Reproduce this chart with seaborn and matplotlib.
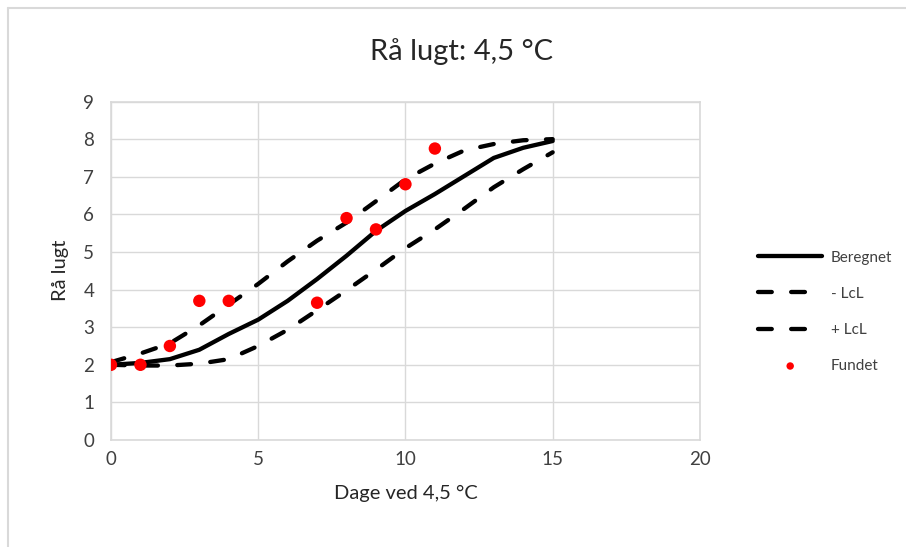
import pandas as pd
import matplotlib.pyplot as plt
import matplotlib.lines as mlines
import seaborn as sns

# Set style
sns.set_theme(style="whitegrid")
plt.rcParams['font.family'] = ['Lato', 'DejaVu Sans']
plt.rcParams['lines.dash_capstyle'] = 'round'
plt.rcParams['lines.solid_capstyle'] = 'round'

# Data
days = list(range(16))
beregnet = [2.0, 2.05, 2.15, 2.4, 2.82, 3.2, 3.7, 4.28, 4.9, 5.56, 6.09, 6.54, 7.02, 7.5, 7.77, 7.95]
minus_lcl = [2.0, 1.98, 1.98, 2.03, 2.15, 2.5, 2.93, 3.45, 3.98, 4.53, 5.1, 5.6, 6.15, 6.72, 7.2, 7.65]
plus_lcl = [2.07, 2.3, 2.57, 3.05, 3.6, 4.15, 4.75, 5.3, 5.78, 6.35, 6.93, 7.35, 7.7, 7.87, 7.97, 8.0]
fundet_days = [0, 1, 2, 3, 4, 7, 8, 9, 10, 11]
fundet = [2.0, 2.0, 2.5, 3.7, 3.7, 3.65, 5.9, 5.6, 6.8, 7.75]

series_names = ['Beregnet', '- LcL', '+ LcL']
curves = pd.DataFrame({
    'dag': days * 3,
    'vaerdi': beregnet + minus_lcl + plus_lcl,
    'serie': [n for n in series_names for _ in days],
})
points = pd.DataFrame({'dag': fundet_days, 'vaerdi': fundet, 'serie': 'Fundet'})

fig = plt.figure(figsize=(9.06, 5.47), dpi=100)
ax = fig.add_axes([0.1225, 0.1956, 0.650, 0.6188])

sns.lineplot(data=curves, x='dag', y='vaerdi', hue='serie', style='serie',
             palette={n: 'black' for n in series_names},
             dashes={'Beregnet': '', '- LcL': (3.2, 4.5), '+ LcL': (3.2, 4.5)},
             linewidth=3.1, ax=ax, legend=True)
sns.scatterplot(data=points, x='dag', y='vaerdi', color='red', s=80,
                edgecolor='none', ax=ax, label='Fundet', zorder=5)

ax.set_xlim(0, 20)
ax.set_ylim(0, 9)
ax.set_xticks(range(0, 21, 5))
ax.set_yticks(range(0, 10))
ax.grid(color='#d9d9d9', linewidth=1)
for s in ax.spines.values():
    s.set_color('#d9d9d9')
    s.set_linewidth(1.2)
ax.tick_params(axis='both', length=0, labelsize=13.5, colors='#404040')
ax.tick_params(axis='y', pad=12)
ax.tick_params(axis='x', pad=8)
ax.set_xlabel('Dage ved 4,5 °C', fontsize=14.5, color='#262626', labelpad=12)
ax.set_ylabel('Rå lugt', fontsize=14.5, color='#262626', labelpad=10)

fig.text(0.51, 0.905, 'Rå lugt: 4,5 °C', ha='center', va='center', fontsize=21, color='#262626')

# Legend outside plot on the right
handles, labels = ax.get_legend_handles_labels()
ax.get_legend().remove()
lookup = dict(zip(labels, handles))
order = ['Beregnet', '- LcL', '+ LcL', 'Fundet']
leg = fig.legend([lookup[k] for k in order], order, loc='center left',
                 bbox_to_anchor=(0.822, 0.43), frameon=False, fontsize=11,
                 handlelength=4.15, labelspacing=1.45, handletextpad=0.6,
                 markerscale=0.6)
for t in leg.get_texts():
    t.set_color('#404040')

# Outer chart border (top and left only)
fig.add_artist(mlines.Line2D([0.0088, 1], [0.9845, 0.9845], color='#d9d9d9', lw=1.5))
fig.add_artist(mlines.Line2D([0.0088, 0.0088], [0, 0.9845], color='#d9d9d9', lw=1.5))

fig.savefig('out.png', dpi=100, facecolor='white')
plt.close(fig)
